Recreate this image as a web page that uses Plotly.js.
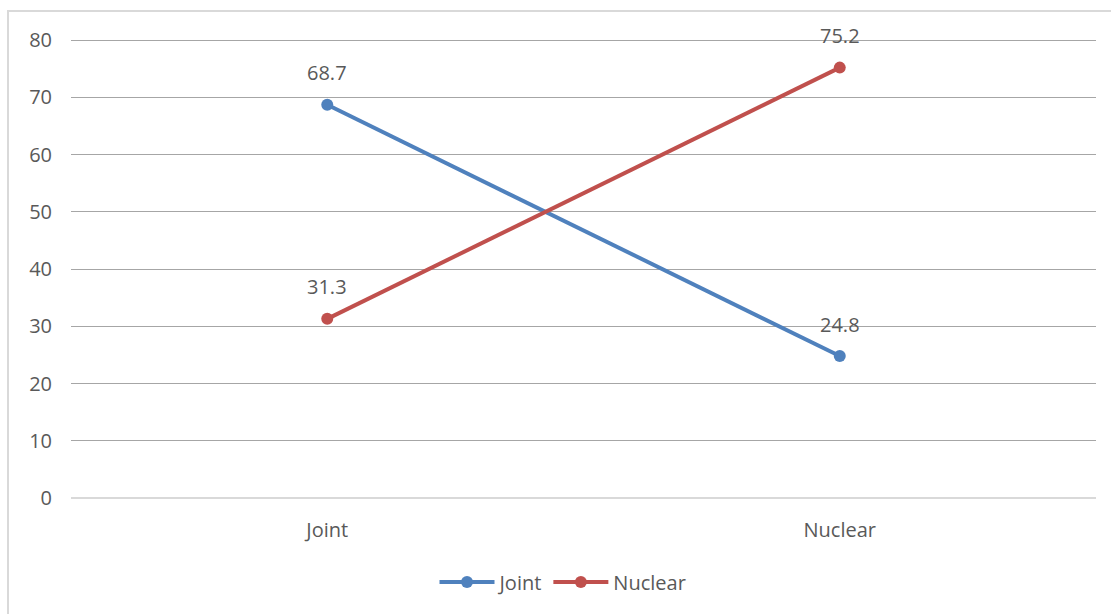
<!DOCTYPE html>
<html>
<head>
<meta charset="utf-8">
<script src="https://cdn.plot.ly/plotly-3.0.1.min.js"></script>
<style>
  html, body { margin: 0; padding: 0; background: #fff; }
  #chart { width: 1111px; height: 614px; }
  #frame {
    position: absolute; left: 7px; top: 10px; width: 1200px; height: 700px;
    border-left: 2px solid #d9d9d9; border-top: 2px solid #d9d9d9;
    pointer-events: none;
  }
</style>
</head>
<body>
<div id="chart"></div>
<div id="frame"></div>
<script>
// Family type categories and share (%) per series
const categories = ["Joint", "Nuclear"];
const jointValues = [68.7, 24.8];
const nuclearValues = [31.3, 75.2];
const yTicks = [0, 10, 20, 30, 40, 50, 60, 70, 80];

const blue = "#4f81bd";
const red = "#c0504d";
const textColor = "#595959";
const font = "Open Sans, Liberation Sans, sans-serif";
const fontSize = 20;

function series(name, values, color) {
  return {
    type: "scatter", mode: "lines+markers", name: name,
    x: categories, y: values,
    line: { color: color, width: 4 },
    marker: { color: color, size: 12 },
    cliponaxis: false
  };
}

// value labels above each point
function labels(values) {
  return values.map((v, i) => ({
    x: categories[i], y: v, xref: "x", yref: "y",
    text: v.toFixed(1), showarrow: false, yshift: 32,
    font: { family: font, size: fontSize, color: textColor }
  }));
}

const data = [
  series("Joint", jointValues, blue),
  series("Nuclear", nuclearValues, red)
];

const layout = {
  width: 1111, height: 614,
  margin: { l: 71, r: 15, t: 39, b: 116 },
  paper_bgcolor: "#fff", plot_bgcolor: "#fff",
  font: { family: font, size: fontSize, color: textColor },
  showlegend: true,
  legend: {
    orientation: "h", x: 0.48, xanchor: "center", y: -0.183, yanchor: "middle",
    font: { family: font, size: fontSize, color: textColor },
    itemwidth: 55, tracegroupgap: 0
  },
  xaxis: {
    type: "category", range: [-0.5, 1.5],
    showgrid: false, zeroline: false, showline: false,
    ticks: "", ticklabelstandoff: 18,
    tickfont: { family: font, size: fontSize, color: textColor }
  },
  yaxis: {
    // small headroom so the top (80) grid line is still drawn
    range: [0, 80.2], tickvals: yTicks,
    showgrid: true, gridcolor: "#a6a6a6", gridwidth: 1,
    zeroline: true, zerolinecolor: "#d9d9d9", zerolinewidth: 2,
    showline: false, ticks: "", ticklabelstandoff: 18,
    tickfont: { family: font, size: fontSize, color: textColor }
  },
  annotations: labels(jointValues).concat(labels(nuclearValues))
};

Plotly.newPlot("chart", data, layout, { displayModeBar: false, staticPlot: true });
</script>
</body>
</html>
